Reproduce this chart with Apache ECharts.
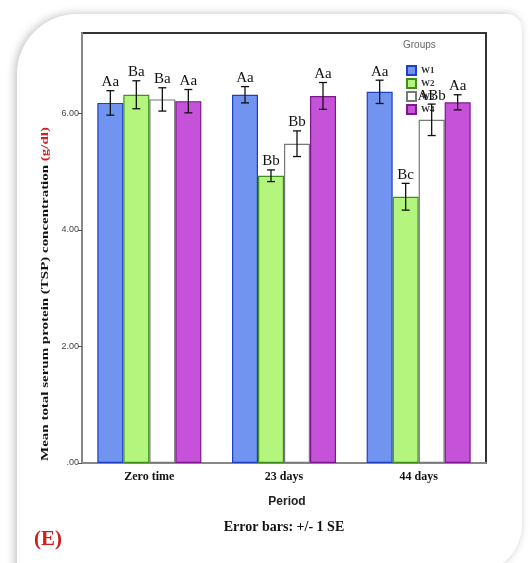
<!DOCTYPE html>
<html>
<head>
<meta charset="utf-8">
<script src="https://cdn.jsdelivr.net/npm/echarts@6/dist/echarts.min.js"></script>
<style>
  html, body { margin: 0; padding: 0; background: #fff; }
  #tsp_chart { width: 532px; height: 563px; }
</style>
</head>
<body>
<div id="tsp_chart"></div>
<script>
// values
var periods = ["Zero time", "23 days", "44 days"];
var groups = ["W1", "W2", "W3", "W4"];
var w1 = [6.18, 6.32, 6.37];
var w2 = [6.32, 4.93, 4.57];
var w3 = [6.24, 5.48, 5.89];
var w4 = [6.21, 6.30, 6.19];
var w1Se = [0.21, 0.14, 0.2];
var w2Se = [0.24, 0.1, 0.23];
var w3Se = [0.2, 0.22, 0.27];
var w4Se = [0.2, 0.23, 0.13];
var w1Letters = ["Aa", "Aa", "Aa"];
var w2Letters = ["Ba", "Bb", "Bc"];
var w3Letters = ["Ba", "Bb", "ABb"];
var w4Letters = ["Aa", "Aa", "Aa"];
var yTicks = [0, 2, 4, 6];

var means = [w1, w2, w3, w4];
var ses = [w1Se, w2Se, w3Se, w4Se];
var letters = [w1Letters, w2Letters, w3Letters, w4Letters];
var fills = ["#7194f0", "#b3f57d", "#ffffff", "#c552d8"];
var borders = ["#1f3fc4", "#3f8f1f", "#777777", "#7a1a8a"];
var BAR_W = 26;

function errorItem(gi) {
  return function (params, api) {
    var x = api.value(0);
    var m = api.value(1);
    var se = api.value(2);
    var top = api.coord([x, m + se]);
    var low = api.coord([x, m - se]);
    var cx = top[0] + (gi - 1.5) * BAR_W;
    var half = 4;
    var st = { stroke: "#111", lineWidth: 1.3 };
    return {
      type: "group",
      children: [
        { type: "line", shape: { x1: cx, y1: top[1], x2: cx, y2: low[1] }, style: st },
        { type: "line", shape: { x1: cx - half, y1: top[1], x2: cx + half, y2: top[1] }, style: st },
        { type: "line", shape: { x1: cx - half, y1: low[1], x2: cx + half, y2: low[1] }, style: st },
        {
          type: "text",
          x: cx,
          y: top[1] - 1,
          style: {
            text: letters[gi][params.dataIndex],
            fill: "#111",
            font: "15px 'Liberation Serif'",
            align: "center",
            verticalAlign: "bottom"
          }
        }
      ]
    };
  };
}

var series = [];
groups.forEach(function (g, gi) {
  series.push({
    name: g,
    type: "bar",
    data: means[gi],
    barWidth: BAR_W,
    barGap: "0%",
    barCategoryGap: "22%",
    itemStyle: { color: fills[gi], borderColor: borders[gi], borderWidth: 1.2 }
  });
});
groups.forEach(function (g, gi) {
  series.push({
    type: "custom",
    renderItem: errorItem(gi),
    data: periods.map(function (p, i) { return [i, means[gi][i], ses[gi][i]]; }),
    z: 5,
    silent: true
  });
});

var options = {
  animation: false,
  backgroundColor: "#ffffff",
  grid: {
    left: 82,
    right: 46,
    top: 33,
    bottom: 100,
    show: true,
    backgroundColor: "#fff",
    borderColor: "#333",
    borderWidth: 2
  },
  legend: {
    data: groups,
    orient: "vertical",
    left: 401,
    top: 60,
    icon: "rect",
    itemWidth: 9,
    itemHeight: 9,
    itemGap: 2,
    textStyle: { fontSize: 9, lineHeight: 9, color: "#333", fontFamily: "Liberation Serif", fontWeight: "bold" }
  },
  xAxis: {
    type: "category",
    data: periods,
    axisLine: { lineStyle: { color: "#888", width: 2 } },
    axisTick: { show: false },
    axisLabel: {
      margin: 8,
      color: "#111",
      fontFamily: "Liberation Serif",
      fontWeight: "bold",
      fontSize: 12
    }
  },
  yAxis: {
    type: "value",
    min: 0,
    max: 7.38,
    interval: 2,
    splitLine: { show: false },
    axisLine: { show: true, lineStyle: { color: "#888", width: 2 } },
    axisTick: { show: true, length: 4, lineStyle: { color: "#555" } },
    axisLabel: {
      showMaxLabel: false,
      margin: 3,
      color: "#444",
      fontSize: 9,
      fontFamily: "Liberation Sans Narrow, Liberation Sans",
      formatter: function (v) {
        if (yTicks.indexOf(v) < 0) return "";
        return v === 0 ? ".00" : v.toFixed(2);
      }
    }
  },
  graphic: [
    {
      type: "rect",
      z: -10,
      shape: { x: 17, y: 14, width: 505, height: 560, r: [60, 15, 50, 0] },
      style: { fill: "#fff", shadowBlur: 10, shadowColor: "rgba(0,0,0,0.25)", shadowOffsetX: -2, shadowOffsetY: 0 }
    },
    {
      type: "text",
      left: 403,
      top: 40,
      style: { text: "Groups", fill: "#666", font: "10px 'Liberation Sans'" }
    },
    {
      type: "text",
      x: 45,
      y: 294,
      rotation: Math.PI / 2,
      scaleX: 1.36,
      style: {
        text: "{b|Mean total serum protein (TSP) concentration }{r|(g/dl)}",
        align: "center",
        verticalAlign: "middle",
        rich: {
          b: { font: "bold 11px 'Liberation Serif'", fill: "#111" },
          r: { font: "bold 11px 'Liberation Serif'", fill: "#d42020" }
        }
      }
    },
    {
      type: "text",
      x: 287,
      y: 502,
      style: { text: "Period", fill: "#222", font: "bold 12px 'Liberation Sans'", align: "center", verticalAlign: "middle" }
    },
    {
      type: "text",
      x: 284,
      y: 527,
      style: { text: "Error bars: +/- 1 SE", fill: "#111", font: "bold 14px 'Liberation Serif'", align: "center", verticalAlign: "middle" }
    },
    {
      type: "text",
      x: 48,
      y: 540,
      style: { text: "(E)", fill: "#cc1f1f", font: "bold 21px 'Liberation Serif'", align: "center", verticalAlign: "middle" }
    }
  ],
  series: series
};

var tspChart = echarts.init(document.getElementById("tsp_chart"));
tspChart.setOption(options);
</script>
</body>
</html>
